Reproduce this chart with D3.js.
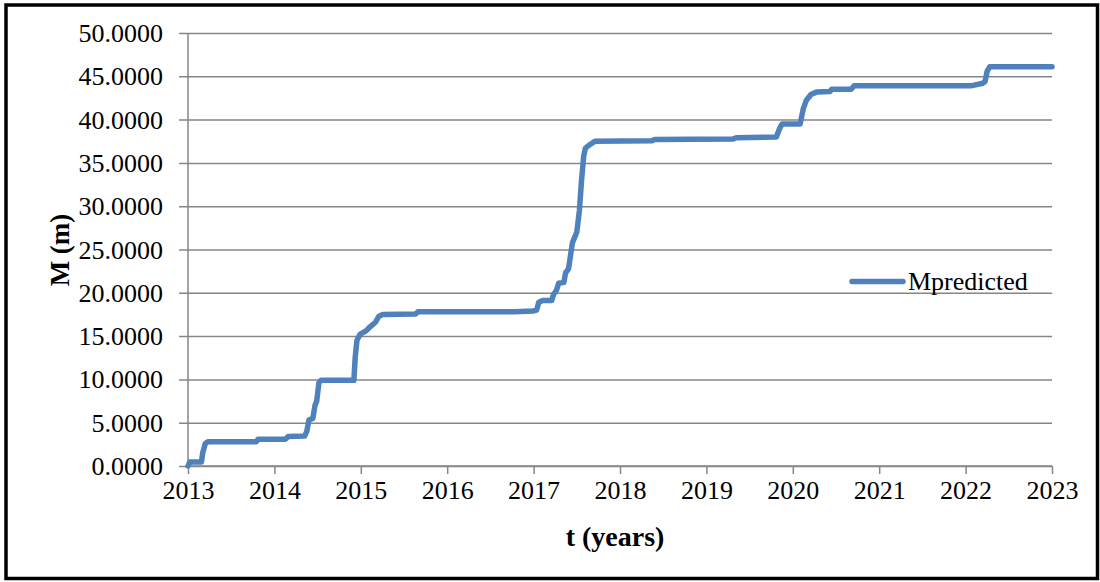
<!DOCTYPE html>
<html>
<head>
<meta charset="utf-8">
<script src="https://cdn.jsdelivr.net/npm/d3@7"></script>
<style>
  html, body { margin: 0; padding: 0; background: #fff; }
  svg { display: block; }
  text { font-family: "Liberation Serif", "Times New Roman", serif; fill: #000; }
</style>
</head>
<body>
<svg id="chart" width="1100" height="582"></svg>
<script>
// Predicted cumulative displacement M (m) over time (years)
const tYears = [
  2013.00, 2013.02, 2013.155, 2013.17, 2013.20, 2013.23, 2013.79, 2013.81,
  2014.13, 2014.16, 2014.35, 2014.375, 2014.40, 2014.445, 2014.47, 2014.49,
  2014.515, 2014.54, 2014.92, 2014.935, 2014.955, 2014.99, 2015.06, 2015.10,
  2015.17, 2015.21, 2015.255, 2015.635, 2015.66, 2016.78, 2016.99, 2017.035,
  2017.06, 2017.105, 2017.21, 2017.23, 2017.265, 2017.29, 2017.35, 2017.37,
  2017.405, 2017.43, 2017.45, 2017.50, 2017.53, 2017.555, 2017.58, 2017.60,
  2017.65, 2017.71, 2018.37, 2018.40, 2019.31, 2019.345, 2019.81, 2019.84,
  2019.875, 2020.085, 2020.12, 2020.155, 2020.21, 2020.28, 2020.43, 2020.45,
  2020.675, 2020.71, 2022.06, 2022.20, 2022.225, 2022.25, 2022.28, 2023.00
];
const mPredicted = [
  0.00, 0.45, 0.45, 1.50, 2.60, 2.80, 2.80, 3.10,
  3.10, 3.40, 3.45, 4.00, 5.30, 5.50, 7.00, 7.50,
  9.60, 9.90, 9.90, 12.50, 14.50, 15.20, 15.60, 16.00,
  16.60, 17.30, 17.50, 17.55, 17.80, 17.80, 17.90, 18.00,
  18.90, 19.10, 19.10, 19.80, 20.30, 21.10, 21.20, 22.30,
  22.80, 24.50, 25.80, 27.00, 29.50, 33.00, 35.80, 36.70,
  37.10, 37.50, 37.55, 37.70, 37.75, 37.90, 38.00, 38.80,
  39.50, 39.50, 41.20, 42.20, 42.90, 43.20, 43.25, 43.50,
  43.50, 43.90, 43.90, 44.20, 44.40, 45.60, 46.10, 46.10
];
const seriesName = "Mpredicted";
const yTicks = [0, 5, 10, 15, 20, 25, 30, 35, 40, 45, 50];
const xTicks = [2013, 2014, 2015, 2016, 2017, 2018, 2019, 2020, 2021, 2022, 2023];
const yTitle = "M (m)";
const xTitle = "t (years)";

const svg = d3.select("#chart");
const plot = { left: 188, right: 1052, top: 33, bottom: 466 };
const gridColor = "#868686";
const lineColor = "#4F81BD";

// outer frame
svg.append("rect")
  .attr("x", 6).attr("y", 5)
  .attr("width", 1091.5).attr("height", 573.5)
  .attr("fill", "none").attr("stroke", "#000").attr("stroke-width", 3.5);

const x = d3.scaleLinear().domain([2013, 2023]).range([plot.left, plot.right]);
const y = d3.scaleLinear().domain([0, 50]).range([plot.bottom, plot.top]);

// horizontal gridlines with left tick marks
const yAxis = d3.axisLeft(y)
  .tickValues(yTicks)
  .tickSize(-(plot.right - plot.left + 9))
  .tickPadding(0)
  .tickFormat(d => d.toFixed(4));
const gy = svg.append("g")
  .attr("transform", `translate(${plot.left - 9},0)`)
  .call(yAxis);
gy.select(".domain").remove();
gy.selectAll(".tick line")
  .attr("stroke", gridColor).attr("stroke-width", 1.5)
  .attr("x1", 0).attr("x2", plot.right - plot.left + 9);
gy.selectAll(".tick text")
  .attr("x", -16)
  .attr("dy", "0.33em")
  .style("font-family", "'Liberation Serif', 'Times New Roman', serif")
  .style("font-size", "26px")
  .attr("fill", "#000");

// vertical axis line
svg.append("line")
  .attr("x1", plot.left).attr("x2", plot.left)
  .attr("y1", plot.top).attr("y2", plot.bottom)
  .attr("stroke", gridColor).attr("stroke-width", 1.5);

// x axis
const xAxis = d3.axisBottom(x)
  .tickValues(xTicks)
  .tickSize(8)
  .tickPadding(7)
  .tickFormat(d3.format("d"));
const gx = svg.append("g")
  .attr("transform", `translate(0,${plot.bottom})`)
  .call(xAxis);
gx.select(".domain").attr("stroke", gridColor).attr("stroke-width", 1.5)
  .attr("d", `M${plot.left},0H${plot.right}`);
gx.selectAll(".tick line").attr("stroke", gridColor).attr("stroke-width", 1.5);
gx.selectAll(".tick text")
  .style("font-family", "'Liberation Serif', 'Times New Roman', serif")
  .style("font-size", "26px")
  .attr("fill", "#000");

// data line
const pts = tYears.map((t, i) => [t, mPredicted[i]]);
const line = d3.line().x(d => x(d[0])).y(d => y(d[1]));
svg.append("path")
  .datum(pts)
  .attr("d", line)
  .attr("fill", "none")
  .attr("stroke", lineColor)
  .attr("stroke-width", 5.5)
  .attr("stroke-linejoin", "round")
  .attr("stroke-linecap", "round");

// axis titles
svg.append("text")
  .attr("transform", `translate(69,250) rotate(-90)`)
  .attr("text-anchor", "middle")
  .style("font-size", "27px")
  .style("font-weight", "bold")
  .text(yTitle);
svg.append("text")
  .attr("x", 615).attr("y", 546)
  .attr("text-anchor", "middle")
  .style("font-size", "28px")
  .style("font-weight", "bold")
  .text(xTitle);

// legend
const lg = svg.append("g");
lg.append("line")
  .attr("x1", 852).attr("x2", 903)
  .attr("y1", 281.5).attr("y2", 281.5)
  .attr("stroke", lineColor).attr("stroke-width", 5.5)
  .attr("stroke-linecap", "round");
lg.append("text")
  .attr("x", 908).attr("y", 290)
  .style("font-size", "26px")
  .text(seriesName);
</script>
</body>
</html>
